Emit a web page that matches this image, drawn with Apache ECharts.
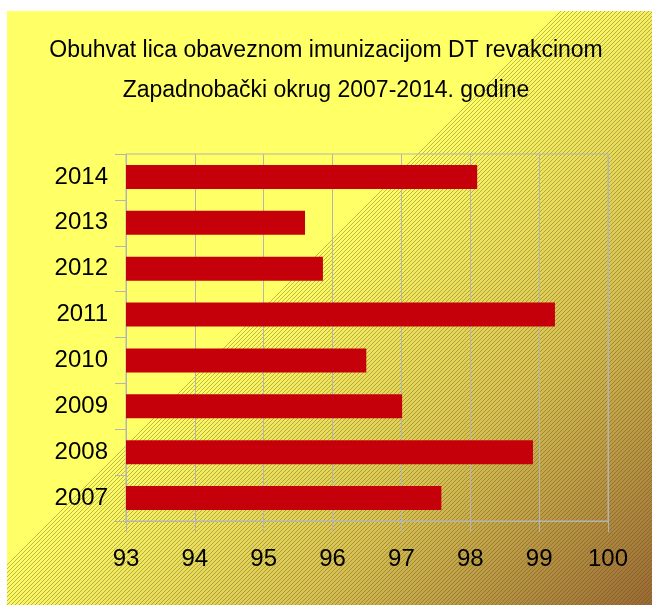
<!DOCTYPE html>
<html>
<head>
<meta charset="utf-8">
<script src="https://cdn.jsdelivr.net/npm/echarts@6/dist/echarts.min.js"></script>
<style>
  html, body { margin: 0; padding: 0; background: #fff; }
  #chart { width: 652px; height: 605px; }
</style>
</head>
<body>
<div id="chart"></div>
<script>
var years = ['2007', '2008', '2009', '2010', '2011', '2012', '2013', '2014'];
var coverage = [97.58, 98.91, 97.01, 96.49, 99.23, 95.86, 95.6, 98.1];
var axisMin = 93;
var axisMax = 100;
var titleText = 'Obuhvat lica obaveznom imunizacijom DT revakcinom\nZapadnobački okrug 2007-2014. godine';

var myChart = echarts.init(document.getElementById('chart'));

// small tile of diagonal lines for the hatch
function makeHatch(){
	var c = document.createElement('canvas');
	c.width = 4;
	c.height = 4;
	var ctx = c.getContext('2d');
	ctx.strokeStyle = 'rgba(90,70,10,0.38)';
	ctx.lineWidth = 1;
	ctx.beginPath();
	ctx.moveTo(-1, 5);
	ctx.lineTo(5, -1);
	ctx.stroke();
	return c;
}

var option = {
	backgroundColor: '#fff',
	animation: false,
	graphic: [
		{
			type: 'rect',
			z: -10,
			shape: {x: 7, y: 11, width: 645, height: 594},
			style: {
				fill: new echarts.graphic.LinearGradient(285, 285, 628, 628, [
					{offset: 0, color: '#ffff66'},
					{offset: 0.5, color: '#d6c052'},
					{offset: 1, color: '#9a6a36'}
				], true)
			}
		},
		{
			type: 'polygon',
			z: -9,
			shape: {points: [[560, 11], [652, 11], [652, 605], [7, 605], [7, 564]]},
			style: {fill: {image: makeHatch(), repeat: 'repeat'}}
		}
	],
	title: {
		text: titleText,
		left: 'center',
		top: 26,
		textStyle: {
			fontFamily: 'Liberation Sans',
			fontSize: 23,
			fontWeight: 'normal',
			color: '#000',
			lineHeight: 40
		}
	},
	grid: {
		left: 126,
		right: 44,
		top: 154,
		bottom: 84,
		show: true,
		borderColor: '#b4b4b4',
		borderWidth: 1,
		backgroundColor: 'transparent'
	},
	xAxis: {
		type: 'value',
		min: axisMin,
		max: axisMax,
		interval: 1,
		axisLine: {show: true, lineStyle: {color: '#b4b4b4', width: 1}},
		axisTick: {show: true, length: 11, lineStyle: {color: '#b4b4b4'}},
		splitLine: {show: true, lineStyle: {color: '#b4b4b4', width: 1}},
		axisLabel: {
			margin: 26,
			fontFamily: 'Liberation Sans',
			fontSize: 24,
			color: '#000'
		}
	},
	yAxis: {
		type: 'category',
		data: years,
		axisLine: {show: true, lineStyle: {color: '#b4b4b4', width: 1}},
		axisTick: {show: true, length: 11, lineStyle: {color: '#b4b4b4'}},
		splitLine: {show: false},
		axisLabel: {
			margin: 18,
			fontFamily: 'Liberation Sans',
			fontSize: 24,
			color: '#000'
		}
	},
	series: [
		{
			type: 'bar',
			data: coverage,
			barWidth: 24,
			itemStyle: {color: '#c6000b'}
		}
	]
};

myChart.setOption(option);
</script>
</body>
</html>
